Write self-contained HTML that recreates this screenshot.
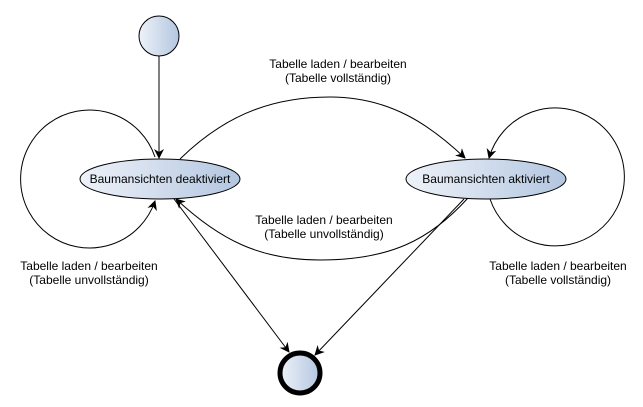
<!DOCTYPE html>
<html><head><meta charset="utf-8"><style>
html,body{margin:0;padding:0;background:#fff;width:643px;height:407px;overflow:hidden}
text{font-family:"Liberation Sans",sans-serif;font-size:12px;fill:#000}
</style></head><body>
<svg width="643" height="407" viewBox="0 0 643 407" xmlns="http://www.w3.org/2000/svg">
<defs>
<linearGradient id="g" x1="0" y1="0" x2="1" y2="0"><stop offset="0" stop-color="#eef2f9"/><stop offset="1" stop-color="#b3c6e0"/></linearGradient>
<marker id="a" markerWidth="10" markerHeight="10" refX="9" refY="5" orient="auto" markerUnits="userSpaceOnUse"><path d="M0,0 L10,5 L0,10 L3,5 Z" fill="#000"/></marker>
</defs>
<g fill="none" stroke="#000" stroke-width="1">
<line x1="159" y1="56" x2="159" y2="158" marker-end="url(#a)"/>
<path d="M155,157 A69 69 0 1 0 155,201" marker-end="url(#a)"/>
<path d="M180,159 C230,110 280,97 330,97 C390,97 430,125 465,158" marker-end="url(#a)"/>
<path d="M490,199 A69 69 0 1 0 489,158" marker-end="url(#a)"/>
<path d="M468,198 C430,240 390,260 320,260 C260,260 220,240 176,199" marker-end="url(#a)"/>
<line x1="174" y1="199" x2="289" y2="352" marker-end="url(#a)"/>
<line x1="464" y1="199" x2="315" y2="355" marker-end="url(#a)"/>
</g>
<circle cx="159" cy="36" r="20" fill="url(#g)" stroke="#000"/>
<ellipse cx="160" cy="179" rx="80" ry="20" fill="url(#g)" stroke="#000"/>
<ellipse cx="486" cy="179" rx="80" ry="20" fill="url(#g)" stroke="#000"/>
<circle cx="300" cy="373" r="20" fill="url(#g)" stroke="#000" stroke-width="5"/>
<text x="160" y="183" text-anchor="middle">Baumansichten deaktiviert</text>
<text x="486" y="183" text-anchor="middle">Baumansichten aktiviert</text>
<text x="338" y="68" text-anchor="middle">Tabelle laden / bearbeiten</text>
<text x="338" y="82" text-anchor="middle">(Tabelle vollständig)</text>
<text x="324" y="224" text-anchor="middle">Tabelle laden / bearbeiten</text>
<text x="324" y="238" text-anchor="middle">(Tabelle unvollständig)</text>
<text x="89" y="270" text-anchor="middle">Tabelle laden / bearbeiten</text>
<text x="89" y="284" text-anchor="middle">(Tabelle unvollständig)</text>
<text x="558" y="270" text-anchor="middle">Tabelle laden / bearbeiten</text>
<text x="558" y="284" text-anchor="middle">(Tabelle vollständig)</text>
</svg>
</body></html>
